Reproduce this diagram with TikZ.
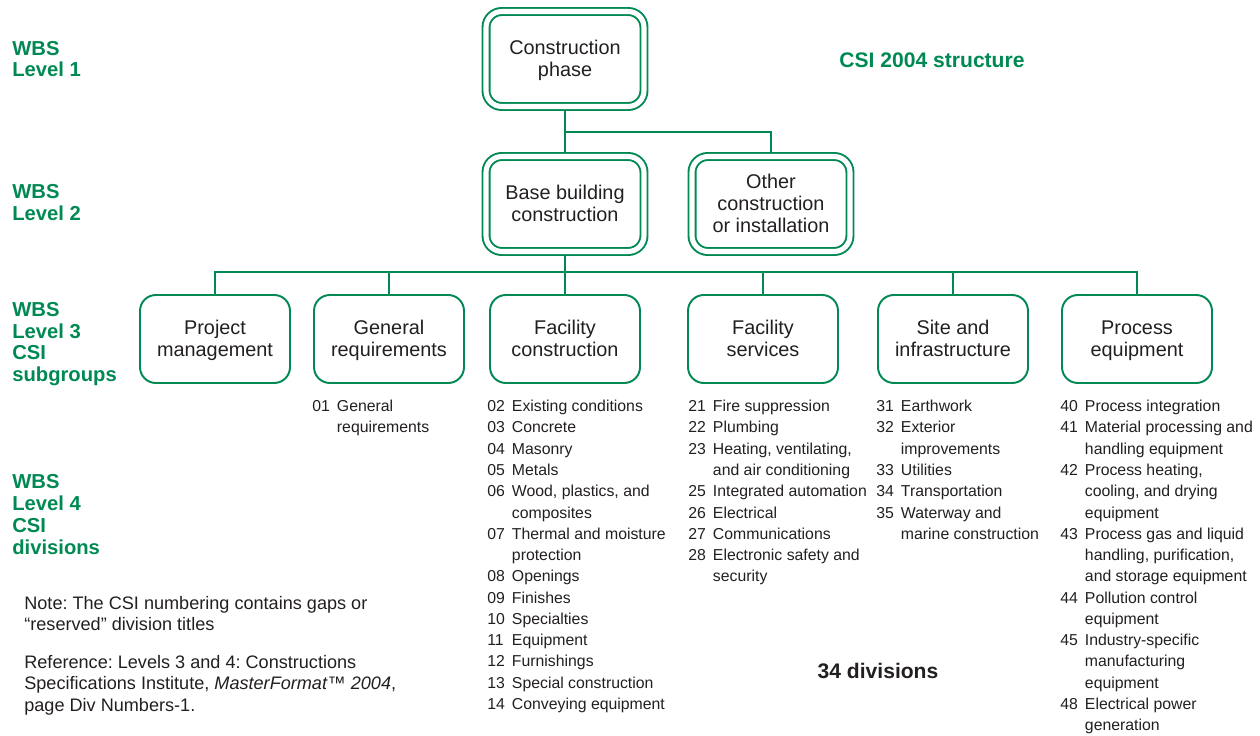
\documentclass[tikz,border=0pt]{standalone}
\usepackage{fontspec}
\setmainfont{Liberation Sans}
\usepackage{tikz}
\usepackage{xcolor}
\usetikzlibrary{backgrounds}
\frenchspacing

\definecolor{wbsgreen}{RGB}{0,137,82}
\definecolor{inkgray}{RGB}{35,31,32}

\newcommand{\boxfont}{\fontsize{11.3}{12.4}\selectfont}
\newcommand{\listfont}{\fontsize{9}{12.1}\selectfont}
\newcommand{\boxtext}[1]{\begin{tabular}{@{}c@{}}\rule{0pt}{11pt}#1\end{tabular}}

\begin{document}
\begin{tikzpicture}[x=0.02cm,y=-0.02cm,
  lvlbox/.style={draw=wbsgreen,line width=1.1pt,rounded corners=9pt,
    minimum width=3cm,minimum height=1.76cm,inner sep=0pt,
    text=inkgray,font=\boxfont},
  dblbox/.style={lvlbox,double=white,double distance=2.9pt,
    minimum width=3.16cm,minimum height=1.9cm},
  conn/.style={draw=wbsgreen,line width=1.1pt},
  lvllabel/.style={anchor=west,align=left,inner sep=0pt,text=wbsgreen,
    font=\fontsize{11.5}{12.4}\selectfont\bfseries},
  divlist/.style={anchor=north west,inner sep=0pt,text=inkgray,font=\listfont},
  notetext/.style={anchor=north west,inner sep=0pt,text=inkgray,
    font=\fontsize{10.3}{12.2}\selectfont}]
  \useasboundingbox (0,0) rectangle (1260,736);

  \node[lvllabel] (wbs1) at (12,59) {WBS\\Level 1};
  \node[lvllabel] (wbs2) at (12,202.5) {WBS\\Level 2};
  \node[lvllabel] (wbs3) at (12,344) {WBS\\Level 3\\CSI\\subgroups};
  \node[lvllabel] (wbs4) at (12,514.5) {WBS\\Level 4\\CSI\\divisions};

  \node[text=wbsgreen,font=\fontsize{12}{14}\selectfont\bfseries] (title) at (932,60) {CSI 2004 structure};

  \node[dblbox] (phase) at (565,59) {\boxtext{Construction\\phase}};
  \node[dblbox] (base) at (565,204) {\boxtext{Base building\\construction}};
  \node[dblbox] (other) at (771,204) {\boxtext{Other\\construction\\or installation}};

  \node[lvlbox] (pm) at (215,339) {\boxtext{Project\\management}};
  \node[lvlbox] (gr) at (389,339) {\boxtext{General\\requirements}};
  \node[lvlbox] (fc) at (565,339) {\boxtext{Facility\\construction}};
  \node[lvlbox] (fs) at (763,339) {\boxtext{Facility\\services}};
  \node[lvlbox] (si) at (953,339) {\boxtext{Site and\\infrastructure}};
  \node[lvlbox] (pe) at (1137,339) {\boxtext{Process\\equipment}};

  \coordinate (split) at (565,132);
  \coordinate (bus) at (565,272);

  \begin{scope}[on background layer]
    \draw[conn] (phase.south) -- (base.north);
    \draw[conn] (split) -| (other.north);
    \draw[conn] (base.south) -- (bus);
    \draw[conn] (pm.north) |- (bus) -| (pe.north);
    \foreach \n in {gr,fc,fs,si}
      \draw[conn] (\n.north) -- (\n.north |- bus);
  \end{scope}

  \node[divlist] (grlist) at (312,396.5) {\begin{tabular}{@{}l@{\hspace{4pt}}l@{}}
    01 & General\\
       & requirements
  \end{tabular}};
  \node[divlist] (fclist) at (487,396.5) {\begin{tabular}{@{}l@{\hspace{4pt}}l@{}}
    02 & Existing conditions\\
    03 & Concrete\\
    04 & Masonry\\
    05 & Metals\\
    06 & Wood, plastics, and\\
       & composites\\
    07 & Thermal and moisture\\
       & protection\\
    08 & Openings\\
    09 & Finishes\\
    10 & Specialties\\
    11 & Equipment\\
    12 & Furnishings\\
    13 & Special construction\\
    14 & Conveying equipment
  \end{tabular}};
  \node[divlist] (fslist) at (688,396.5) {\begin{tabular}{@{}l@{\hspace{4pt}}l@{}}
    21 & Fire suppression\\
    22 & Plumbing\\
    23 & Heating, ventilating,\\
       & and air conditioning\\
    25 & Integrated automation\\
    26 & Electrical\\
    27 & Communications\\
    28 & Electronic safety and\\
       & security
  \end{tabular}};
  \node[divlist] (silist) at (876,396.5) {\begin{tabular}{@{}l@{\hspace{4pt}}l@{}}
    31 & Earthwork\\
    32 & Exterior\\
       & improvements\\
    33 & Utilities\\
    34 & Transportation\\
    35 & Waterway and\\
       & marine construction
  \end{tabular}};
  \node[divlist] (pelist) at (1060,396.5) {\begin{tabular}{@{}l@{\hspace{4pt}}l@{}}
    40 & Process integration\\
    41 & Material processing and\\
       & handling equipment\\
    42 & Process heating,\\
       & cooling, and drying\\
       & equipment\\
    43 & Process gas and liquid\\
       & handling, purification,\\
       & and storage equipment\\
    44 & Pollution control\\
       & equipment\\
    45 & Industry-specific\\
       & manufacturing\\
       & equipment\\
    48 & Electrical power\\
       & generation
  \end{tabular}};

  \node[font=\fontsize{12}{14}\selectfont\bfseries,text=inkgray] (count) at (878,671) {34 divisions};

  \node[notetext] (note) at (24,594) {\begin{tabular}{@{}l@{}}
    Note: The CSI numbering contains gaps or\\
    “reserved” division titles
  \end{tabular}};
  \node[notetext] (source) at (24,653) {\begin{tabular}{@{}l@{}}
    Reference: Levels 3 and 4: Constructions\\
    Specifications Institute, \textit{MasterFormat}™ \textit{2004},\\
    page Div Numbers-1.
  \end{tabular}};
\end{tikzpicture}
\end{document}
